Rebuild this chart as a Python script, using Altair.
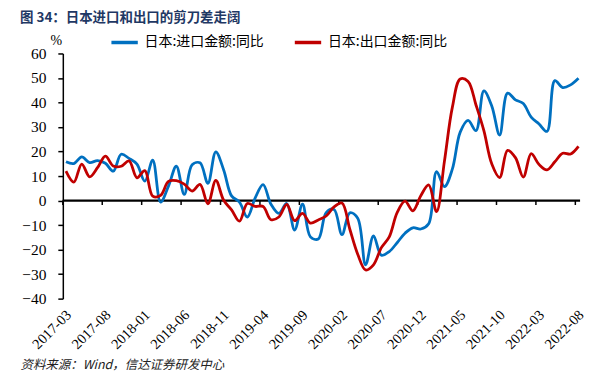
import altair as alt
import pandas as pd

# ---- data (monthly, 2017-03 .. 2022-08) ----
months = [str(p) for p in pd.period_range("2017-03", "2022-08", freq="M")]

imports_yoy = [
    15.8, 15.1, 17.8, 15.5, 16.3, 15.2, 12.0, 18.9, 17.2, 14.9,
    7.9, 16.5, -0.6, 5.9, 14.0, 2.5, 14.6, 15.4, 7.0, 19.9, 12.5, 1.9,
    -0.6, -6.7, 1.1, 6.5, -1.5, -5.2, -1.2, -12.0, -1.5, -14.8, -15.7, -4.9,
    -3.6, -13.9, -5.0, -7.2, -26.2, -14.4, -22.3, -20.8, -17.2, -13.3, -11.1, -11.6,
    -9.5, 11.8, 5.7, 12.8, 27.9, 32.7, 28.5, 44.7, 38.6, 26.7, 43.8, 41.1,
    39.6, 34.0, 31.2, 28.2, 48.9, 46.1, 47.2, 49.9,
]
exports_yoy = [
    12.0, 7.5, 14.9, 9.7, 13.4, 18.1, 14.1, 14.0, 16.2, 9.3,
    12.2, 1.8, 2.1, 7.8, 8.1, 6.7, 3.9, 6.6, -1.3, 8.2, 0.1, -3.8,
    -8.4, -1.2, -2.4, -2.4, -7.8, -6.7, -1.6, -8.2, -5.2, -9.2, -7.9, -6.3,
    -2.6, -1.0, -11.7, -21.9, -28.3, -26.2, -19.2, -14.8, -4.9, -0.2, -4.2, 2.0,
    6.4, -4.5, 16.1, 38.0, 49.6, 48.6, 39.0, 28.5, 15.0, 9.4, 20.5, 17.5,
    9.6, 19.1, 14.7, 12.5, 15.8, 19.3, 19.0, 22.1,
]
series_names = ["日本:进口金额:同比", "日本:出口金额:同比"]
series_colors = ["#0070C0", "#C00000"]
tick_labels = ["2017-03", "2017-08", "2018-01", "2018-06", "2018-11", "2019-04", "2019-09",
               "2020-02", "2020-07", "2020-12", "2021-05", "2021-10", "2022-03", "2022-08"]
y_ticks = [-40, -30, -20, -10, 0, 10, 20, 30, 40, 50, 60]

title_text = "图 34：日本进口和出口的剪刀差走阔"
source_text = "资料来源：Wind，信达证券研发中心"

SERIF = "'Liberation Serif', 'Times New Roman', Times, serif"
CJK = "'Noto Sans CJK SC', sans-serif"

# ---- tables ----
rows = []
for i, m in enumerate(months):
    rows.append({"idx": i, "month": m, "series": series_names[0], "value": imports_yoy[i]})
    rows.append({"idx": i, "month": m, "series": series_names[1], "value": exports_yoy[i]})
df = pd.DataFrame(rows)

X_LO, X_HI = -0.4, len(months) - 0.8
tick_pos = [months.index(t) - 0.4 for t in tick_labels]
label_lookup = "[" + ",".join("'%s'" % t for t in tick_labels) + "]"

W, H = 519, 246

xscale = alt.Scale(domain=[X_LO, X_HI], nice=False, zero=False)
yscale = alt.Scale(domain=[-40, 60], nice=False, zero=False)
cscale = alt.Scale(domain=series_names, range=series_colors)

x_axis = alt.Axis(
    values=tick_pos,
    labelExpr=label_lookup + "[round((datum.value + 0.4) / 5)]",
    labelAngle=-45, labelAlign="right", labelBaseline="middle",
    labelFont=SERIF, labelFontSize=14.5, labelColor="black",
    labelPadding=14, labelOffset=6, labelOverlap=False,
    domain=False, ticks=False, grid=False,
    title=source_text, titleX=-43, titleY=66, titleAlign="left", titleBaseline="middle",
    titleAnchor="start", titleFont=CJK, titleFontSize=12.5,
    titleFontStyle="italic", titleFontWeight="normal", titleColor="#222222",
)
y_axis = alt.Axis(
    values=y_ticks, grid=False,
    labelFont=SERIF, labelFontSize=15.5, labelColor="black", labelPadding=12,
    tickColor="black", tickSize=5, tickWidth=1.5,
    domainColor="black", domainWidth=1.5,
    title="%", titleAngle=0, titleX=-7, titleY=-13, titleAlign="center", titleBaseline="middle",
    titleFont=SERIF, titleFontSize=14, titleFontWeight="normal", titleColor="black",
)

legend = alt.Legend(
    orient="none", legendX=47, legendY=-26, direction="horizontal", title=None,
    symbolType="stroke", symbolSize=700, symbolStrokeWidth=3.5,
    labelFont=CJK, labelFontSize=14, labelColor="black",
    columnPadding=23, labelOffset=5,
)

zero_df = pd.DataFrame({"idx": [X_LO], "x1": [X_HI], "value": [0]})
zero_line = alt.Chart(zero_df).mark_rule(color="black", strokeWidth=2.2).encode(
    x=alt.X("idx:Q", scale=xscale, axis=x_axis), x2="x1:Q",
    y=alt.Y("value:Q", scale=yscale, axis=y_axis),
)
tick_df = pd.DataFrame({"idx": tick_pos, "value": [0] * len(tick_pos), "y1": [-1.8] * len(tick_pos)})
zero_ticks = alt.Chart(tick_df).mark_rule(color="black", strokeWidth=1.5).encode(
    x=alt.X("idx:Q", scale=xscale, axis=x_axis),
    y=alt.Y("value:Q", scale=yscale, axis=y_axis), y2="y1:Q",
)

def line_layer(name):
    return alt.Chart(df).transform_filter(alt.datum.series == name).mark_line(
        strokeWidth=2.8, interpolate="catmull-rom"
    ).encode(
        x=alt.X("idx:Q", scale=xscale, axis=x_axis),
        y=alt.Y("value:Q", scale=yscale, axis=y_axis),
        color=alt.Color("series:N", scale=cscale, legend=legend),
    )

chart = alt.layer(
    zero_line, zero_ticks,
    line_layer(series_names[0]),
    line_layer(series_names[1]),
).properties(
    width=W, height=H,
    title=alt.TitleParams(
        text=title_text, anchor="start", frame="group",
        font=CJK, fontSize=13.5, fontWeight="bold", color="#1F3864",
        dx=-43, offset=3,
    ),
    autosize=alt.AutoSizeParams(type="none"),
    padding={"left": 55, "top": 45, "right": 20, "bottom": 75},
).configure(background="white").configure_view(stroke=None)

chart.save("out.html", embed_options={"renderer": "svg", "actions": False})
